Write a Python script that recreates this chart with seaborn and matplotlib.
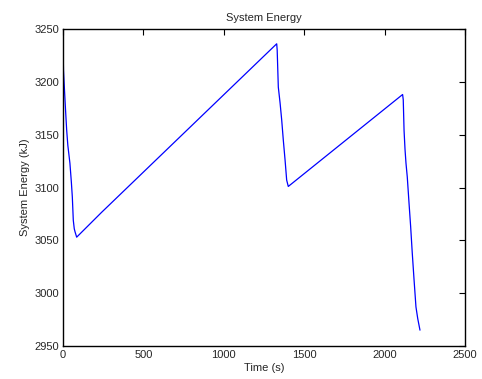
import matplotlib
matplotlib.use("Agg")
import matplotlib.pyplot as plt
import seaborn as sns
import pandas as pd

# Energy trace over time (s, kJ)
time_s = [0, 3, 10, 17, 23, 30, 43, 52, 58, 64, 70, 75, 85,
          240, 1329, 1332, 1339, 1350, 1360, 1370, 1381, 1391, 1401,
          2112, 2116, 2121, 2127, 2133, 2141, 2152, 2162, 2172, 2183, 2195,
          2206, 2220]
energy_kj = [3237, 3211, 3190, 3170, 3154, 3140, 3123, 3105, 3091, 3069, 3061, 3058, 3053,
             3076.5, 3236, 3230, 3195, 3180, 3164, 3145, 3126, 3107, 3101,
             3188, 3183, 3154, 3136, 3123, 3110, 3085, 3063, 3038, 3013, 2987,
             2976, 2965]

x_ticks = [0, 500, 1000, 1500, 2000, 2500]
y_ticks = [2950, 3000, 3050, 3100, 3150, 3200, 3250]

sns.set_style("white")
plt.rcParams["font.family"] = ["Liberation Sans", "DejaVu Sans"]

df = pd.DataFrame({"Time (s)": time_s, "System Energy (kJ)": energy_kj})

fig = plt.figure(figsize=(4.82, 3.79), dpi=100)
ax = fig.add_axes([63 / 482, 1 - 346 / 379, (465 - 63) / 482, (346 - 29) / 379])

sns.lineplot(data=df, x="Time (s)", y="System Energy (kJ)", sort=False,
             color="#0000ff", linewidth=0.9, ax=ax)

ax.set_xlim(0, 2500)
ax.set_ylim(2950, 3250)
ax.set_xticks(x_ticks)
ax.set_yticks(y_ticks)
ax.tick_params(direction="in", length=4, width=0.8, labelsize=8, color="black",
               top=True, right=True, pad=3)
for s in ax.spines.values():
    s.set_visible(True)
    s.set_color("black")
    s.set_linewidth(1.0)

ax.set_xlabel("Time (s)", fontsize=8, labelpad=2)
ax.set_ylabel("System Energy (kJ)", fontsize=8, labelpad=3)
ax.set_title("System Energy", fontsize=8, pad=6)

fig.savefig("out.png", dpi=100)
